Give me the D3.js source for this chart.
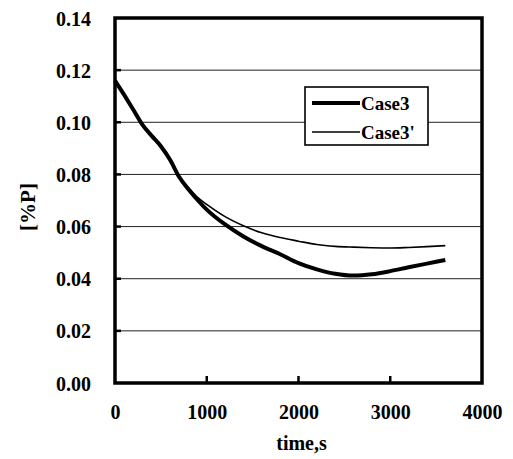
<!DOCTYPE html>
<html>
<head>
<meta charset="utf-8">
<script src="https://cdn.jsdelivr.net/npm/d3@7"></script>
<style>
  html, body { margin: 0; padding: 0; background: #fff; }
  svg { display: block; }
  text { font-family: "Liberation Serif", "Times New Roman", serif; font-weight: bold; fill: #000; }
</style>
</head>
<body>
<svg id="chart" width="513" height="459"></svg>
<script>
// ---- data ----
const time = [0, 100, 200, 300, 400, 500, 600, 700, 800, 900, 1000, 1200, 1400, 1600, 1800, 2000, 2200, 2400, 2600, 2800, 3000, 3200, 3400, 3600];
const case3 = [0.116, 0.1105, 0.1048, 0.0990, 0.0948, 0.0908, 0.0856, 0.0790, 0.0743, 0.0702, 0.0665, 0.0608, 0.0562, 0.0525, 0.0494, 0.0460, 0.0436, 0.0419, 0.0412, 0.0417, 0.0429, 0.0444, 0.0458, 0.0472];
const case3p = [0.116, 0.1105, 0.1048, 0.0990, 0.0948, 0.0908, 0.0856, 0.0792, 0.0750, 0.0712, 0.0685, 0.0638, 0.0603, 0.0576, 0.0558, 0.0544, 0.0531, 0.0524, 0.0521, 0.0519, 0.0518, 0.0520, 0.0523, 0.0527];
const xTicks = [0, 1000, 2000, 3000, 4000];
const yTicks = [0.00, 0.02, 0.04, 0.06, 0.08, 0.10, 0.12, 0.14];
const seriesNames = ["Case3", "Case3'"];

// ---- layout ----
const svg = d3.select("#chart");
const L = 115, R = 482, T = 18, B = 383;
const x = d3.scaleLinear().domain([0, 4000]).range([L, R]);
const y = d3.scaleLinear().domain([0, 0.14]).range([B, T]);

// gridlines
svg.append("g").selectAll("line").data(yTicks.filter(v => v > 0 && v < 0.14)).join("line")
  .attr("x1", L).attr("x2", R)
  .attr("y1", d => y(d)).attr("y2", d => y(d))
  .attr("stroke", "#222").attr("stroke-width", 1);

// y axis labels
const yAxis = d3.axisLeft(y).tickValues(yTicks).tickFormat(d3.format(".2f")).tickSize(0).tickPadding(24);
const gy = svg.append("g").attr("transform", `translate(${L},0)`).call(yAxis);
gy.attr("font-family", null);
gy.select(".domain").remove();
gy.selectAll("text").style("font-size", "20px").attr("dy", "0.35em");

// x axis labels
const xAxis = d3.axisBottom(x).tickValues(xTicks).tickFormat(d3.format("d")).tickSize(0).tickPadding(22);
const gx = svg.append("g").attr("transform", `translate(0,${B})`).call(xAxis);
gx.attr("font-family", null);
gx.select(".domain").remove();
gx.selectAll("text").style("font-size", "20px").attr("dy", "0.71em");

// inner tick marks
svg.append("g").selectAll("line").data(yTicks.filter(v => v > 0 && v < 0.14)).join("line")
  .attr("x1", L).attr("x2", L + 6)
  .attr("y1", d => y(d)).attr("y2", d => y(d))
  .attr("stroke", "#000").attr("stroke-width", 2.5);
svg.append("g").selectAll("line").data(xTicks.filter(v => v > 0 && v < 4000)).join("line")
  .attr("x1", d => x(d)).attr("x2", d => x(d))
  .attr("y1", B).attr("y2", B - 7)
  .attr("stroke", "#000").attr("stroke-width", 2.5);

// curves
const line = d3.line().x((d, i) => x(time[i])).y(d => y(d)).curve(d3.curveMonotoneX);
svg.append("path").datum(case3p).attr("d", line)
  .attr("fill", "none").attr("stroke", "#000").attr("stroke-width", 1.6);
svg.append("path").datum(case3).attr("d", line)
  .attr("fill", "none").attr("stroke", "#000").attr("stroke-width", 4);

// frame
svg.append("rect").attr("x", L).attr("y", T).attr("width", R - L).attr("height", B - T)
  .attr("fill", "none").attr("stroke", "#000").attr("stroke-width", 3.5);

// legend
const lg = svg.append("g");
lg.append("rect").attr("x", 305).attr("y", 87).attr("width", 123).attr("height", 58)
  .attr("fill", "#fff").attr("stroke", "#000").attr("stroke-width", 1.6);
const widths = [4, 1.6];
seriesNames.forEach((name, i) => {
  const yy = 103 + i * 29;
  lg.append("line").attr("x1", 312).attr("x2", 360).attr("y1", yy).attr("y2", yy)
    .attr("stroke", "#000").attr("stroke-width", widths[i]);
  lg.append("text").attr("x", 361).attr("y", yy + 7).style("font-size", "19px").text(name);
});

// axis titles
svg.append("text").attr("x", (L + R) / 2 + 3).attr("y", 450).attr("text-anchor", "middle")
  .style("font-size", "20px").text("time,s");
svg.append("text").attr("transform", "translate(35,207) rotate(-90)").attr("text-anchor", "middle")
  .style("font-size", "21px").text("[%P]");
</script>
</body>
</html>
